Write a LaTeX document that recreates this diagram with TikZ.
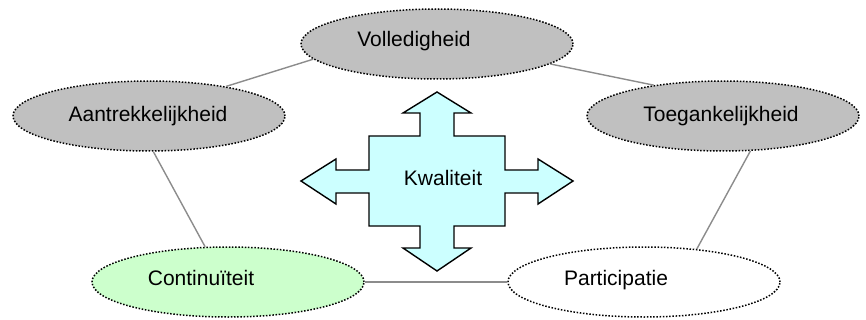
\documentclass[tikz,border=0pt]{standalone}
\usepackage{fontspec}
\setmainfont{Liberation Sans}
\usetikzlibrary{shapes.geometric}
\definecolor{ovalgray}{HTML}{C0C0C0}
\definecolor{ovalgreen}{HTML}{CCFFCC}
\definecolor{crosscyan}{HTML}{CCFFFF}
\definecolor{linkgray}{HTML}{8C8C8C}
\begin{document}
\begin{tikzpicture}[x=1pt,y=-1pt,
  oval/.style={ellipse, draw=black, line width=1.5pt, dash pattern=on 1.5pt off 1.7pt,
    minimum width=272pt, minimum height=70pt, inner sep=0pt},
  lbl/.style={font=\fontsize{21}{25}\selectfont, anchor=base, inner sep=0pt},
  link/.style={draw=linkgray, line width=1.4pt},
  crossarrow/.style={draw=black, line width=1.4pt, fill=crosscyan, line join=miter}]
\useasboundingbox (0,0) rectangle (866,320);
\coordinate (cV) at (437,44);
\coordinate (cA) at (149,116);
\coordinate (cT) at (723,116);
\coordinate (cC) at (228,282);
\coordinate (cP) at (644,282);
\node[oval, fill=ovalgray] (eV) at (cV) {};
\node[oval, fill=ovalgray] (eA) at (cA) {};
\node[oval, fill=ovalgray] (eT) at (cT) {};
\node[oval, fill=ovalgreen] (eC) at (cC) {};
\node[oval, fill=white] (eP) at (cP) {};
\draw[link] (eA.21) -- (eV.187);
\draw[link] (eV.-10) -- (eT.156);
\draw[link] (eA.-83) -- (eC.123);
\draw[link] (eT.-52) -- (eP.32);
\draw[link] (eC.0) -- (eP.180);
\node[lbl] (tV) at (414,47) {Volledigheid};
\node[lbl] (tA) at (148,122) {Aantrekkelijkheid};
\node[lbl] (tT) at (721,122) {Toegankelijkheid};
\node[lbl] (tC) at (201,285) {Continuïteit};
\node[lbl] (tP) at (616,285) {Participatie};
\draw[crossarrow] (437,92) -- (471,113) -- (454,113) -- (454,136) -- (505,136) -- (505,170)
  -- (538,170) -- (538,159) -- (573,181) -- (538,204) -- (538,193) -- (505,193)
  -- (505,226) -- (454,226) -- (454,248) -- (471,248) -- (437,271) -- (403,248)
  -- (420,248) -- (420,226) -- (369,226) -- (369,193) -- (336,193) -- (336,204)
  -- (301,181) -- (336,159) -- (336,170) -- (369,170) -- (369,136) -- (420,136)
  -- (420,113) -- (403,113) -- cycle;
\node[lbl] (tK) at (443,186) {Kwaliteit};
\end{tikzpicture}
\end{document}
